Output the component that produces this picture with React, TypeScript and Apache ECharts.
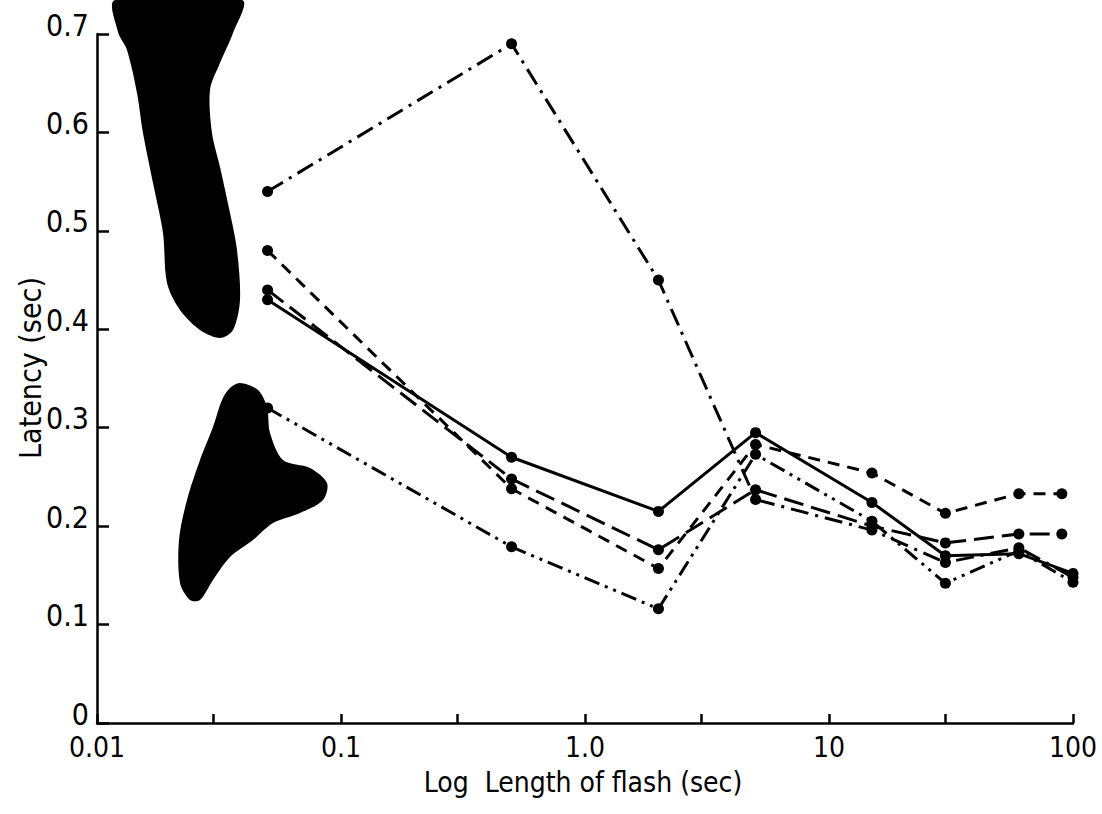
import React, { useEffect, useRef } from "react";
import * as echarts from "echarts";

// Flash durations (sec) at which latency was measured
const flashLengths = [0.05, 0.5, 2, 5, 15, 30, 60, 100];
const flashLengthsB = [0.05, 0.5, 2, 5, 15, 30, 60, 90];

// Latency (sec) for each subject / condition
const latencySolid = [0.43, 0.27, 0.215, 0.295, 0.224, 0.17, 0.172, 0.152];
const latencyShortDash = [0.48, 0.238, 0.157, 0.283, 0.254, 0.213, 0.233, 0.233];
const latencyLongDash = [0.44, 0.248, 0.176, 0.237, 0.2, 0.183, 0.192, 0.192];
const latencyDashDot = [0.54, 0.69, 0.45, 0.227, 0.196, 0.163, 0.178, 0.148];
const latencyDashDotDot = [0.32, 0.179, 0.116, 0.273, 0.205, 0.142, 0.175, 0.143];

// Axis ticks
const decadeLabels = ["0.01", "0.1", "1.0", "10", "100"];
const halfDecadeTicks = [0.03, 0.3, 3, 30];
const latencyMin = 0;
const latencyMax = 0.7;
const latencyStep = 0.1;

const FONT = "'Liberation Sans Narrow', 'DejaVu Sans Condensed', 'Liberation Sans', Arial, sans-serif";

// Ink smudges on the plate
const smudgeUpper = [
  [115, 0], [118, 32], [127, 50], [137, 93], [143, 133], [153, 183], [163, 233],
  [167, 283], [180, 310], [200, 330], [220, 338], [233, 330], [240, 300], [237, 250],
  [230, 213], [220, 167], [212, 133], [210, 90], [220, 63], [233, 33], [242, 0],
];
const smudgeLower = [
  [240, 383], [258, 390], [267, 407], [270, 433], [283, 460], [310, 468], [327, 483],
  [323, 500], [300, 513], [273, 523], [253, 540], [230, 557], [213, 580], [200, 600],
  [190, 600], [180, 583], [179, 540], [187, 500], [200, 460], [213, 427], [222, 400], [230, 388],
];

const pair = (xs: number[], ys: number[]) => xs.map((x, i) => [x, ys[i]]);

function lineSeries(name: string, xs: number[], ys: number[], dash: number[] | "solid") {
  return {
    name,
    type: "line" as const,
    xAxisIndex: 0,
    yAxisIndex: 0,
    data: pair(xs, ys),
    symbol: "circle",
    symbolSize: 11,
    itemStyle: { color: "#000" },
    lineStyle: { color: "#000", width: 3, type: dash },
    z: 3,
  };
}

export default function App() {
  const ref = useRef<HTMLDivElement>(null);

  useEffect(() => {
    if (!ref.current) return;
    const chart = echarts.init(ref.current, undefined, { renderer: "svg" });
    chart.setOption({
      animation: false,
      backgroundColor: "#fff",
      grid: { left: 97, right: 29, top: 34, bottom: 91, containLabel: false },
      xAxis: [
        {
          type: "log",
          logBase: 10,
          min: 0.01,
          max: 100,
          splitNumber: 4,
          axisLine: { onZero: false, lineStyle: { color: "#000", width: 2.5 } },
          axisTick: { inside: true, length: 9, lineStyle: { color: "#000", width: 2.5 } },
          axisLabel: {
            color: "#000",
            fontFamily: FONT,
            fontSize: 28,
            margin: 10,
            lineHeight: 28,
            formatter: (v: number) => decadeLabels[Math.round(Math.log10(v)) + 2] ?? "",
          },
          splitLine: { show: false },
        },
        {
          type: "value",
          min: -2,
          max: 2,
          position: "bottom",
          axisLine: { show: false, onZero: false },
          axisLabel: { show: false },
          splitLine: { show: false },
          axisTick: {
            show: true,
            inside: true,
            length: 9,
            lineStyle: { color: "#000", width: 2.5 },
            customValues: halfDecadeTicks.map((t) => Math.log10(t)),
          },
        },
      ],
      yAxis: {
        type: "value",
        min: latencyMin,
        max: latencyMax,
        interval: latencyStep,
        axisLine: { show: true, onZero: false, lineStyle: { color: "#000", width: 2.5 } },
        axisTick: { show: true, inside: true, length: 12, lineStyle: { color: "#000", width: 2.5 } },
        axisLabel: {
          color: "#000",
          fontFamily: FONT,
          fontSize: 30,
          margin: 8,
          verticalAlign: "bottom",
          lineHeight: 18,
          formatter: (v: number) => (v === 0 ? "0" : v.toFixed(1)),
        },
        splitLine: { show: false },
      },
      graphic: [
        {
          type: "polygon",
          z: 0,
          shape: { points: smudgeUpper, smooth: 0.3 },
          style: { fill: "#000" },
        },
        {
          type: "polygon",
          z: 0,
          shape: { points: smudgeLower, smooth: 0.3 },
          style: { fill: "#000" },
        },
        {
          type: "text",
          x: 583,
          y: 782,
          style: {
            text: "Log  Length of flash (sec)",
            fontFamily: FONT,
            fontSize: 28,
            fill: "#000",
            align: "center",
            verticalAlign: "middle",
          },
        },
        {
          type: "text",
          x: 30,
          y: 368,
          rotation: Math.PI / 2,
          style: {
            text: "Latency (sec)",
            fontFamily: FONT,
            fontSize: 30,
            fill: "#000",
            align: "center",
            verticalAlign: "middle",
          },
        },
      ],
      series: [
        lineSeries("solid", flashLengths, latencySolid, "solid"),
        lineSeries("short dash", flashLengthsB, latencyShortDash, [12, 8]),
        lineSeries("long dash", flashLengthsB, latencyLongDash, [20, 8]),
        lineSeries("dash dot", flashLengths, latencyDashDot, [18, 7, 3, 7]),
        lineSeries("dash dot dot", flashLengths, latencyDashDotDot, [16, 6, 3, 6, 3, 6]),
      ],
    });
    return () => chart.dispose();
  }, []);

  return (
    <div
      ref={ref}
      style={{ position: "absolute", left: 0, top: 0, width: 1102, height: 814, background: "#fff" }}
    />
  );
}
